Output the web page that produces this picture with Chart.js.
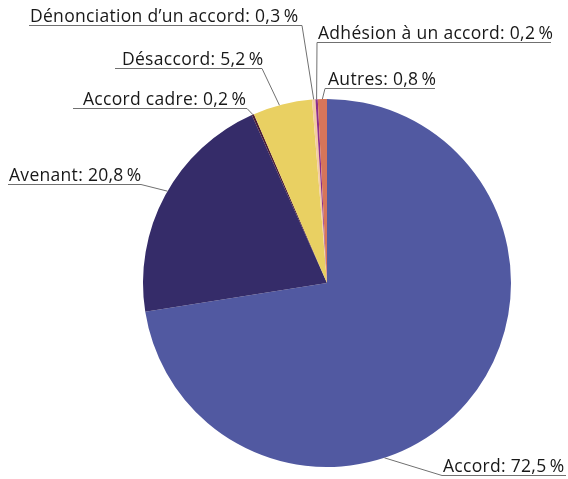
<!DOCTYPE html>
<html>
<head>
<meta charset="utf-8">
<script src="https://cdn.jsdelivr.net/npm/chart.js@4/dist/chart.umd.min.js"></script>
<style>
  html, body { margin: 0; padding: 0; background: #fff; }
  canvas { display: block; }
</style>
</head>
<body>
<canvas id="typesChart" width="568" height="479"></canvas>
<script>
// Data
const categories = ['Accord', 'Avenant', 'Accord cadre', 'Désaccord', 'Dénonciation d\u2019un accord', 'Adhésion à un accord', 'Autres'];
const shares = [72.5, 20.8, 0.2, 5.2, 0.3, 0.2, 0.8];
const sliceColors = ['#5159a1', '#352c69', '#4a1d36', '#e9d062', '#f4cba2', '#8c2d8a', '#d6755a'];

// Label placement (underline y, underline x range, text left, which end the leader leaves from, where it hits the slice)
const labelLayout = [
    { textX: 443, lineY: 475, x1: 442, x2: 566, from: 'left', at: 0.62 },
    { textX: 9, lineY: 184, x1: 8, x2: 141, from: 'right', at: 0.52 },
    { textX: 83, lineY: 108, x1: 73, x2: 247, from: 'right', at: 0.5 },
    { textX: 122, lineY: 68, x1: 115, x2: 262, from: 'right', at: 0.45 },
    { textX: 30, lineY: 25, x1: 29, x2: 302, from: 'right', at: 0.5 },
    { textX: 318, lineY: 42, x1: 317, x2: 551, from: 'left', at: 0.5 },
    { textX: 328, lineY: 88, x1: 325, x2: 435, from: 'left', at: 0.5 }
];

function formatShare(v) {
    return v.toFixed(1).replace('.', ',') + '\u2009%';
}

const leaderLabels = {
    id: 'leaderLabels',
    afterDraw(chart) {
        const ctx = chart.ctx;
        const arcs = chart.getDatasetMeta(0).data;
        ctx.save();
        ctx.font = '17.5px "Open Sans", sans-serif';
        ctx.letterSpacing = '0.3px';
        ctx.textBaseline = 'alphabetic';
        ctx.textAlign = 'left';
        arcs.forEach((arc, i) => {
            const lay = labelLayout[i];
            const { x, y, startAngle, endAngle, outerRadius } = arc.getProps(['x', 'y', 'startAngle', 'endAngle', 'outerRadius'], true);
            const ang = startAngle + (endAngle - startAngle) * lay.at;
            const ex = x + Math.cos(ang) * outerRadius;
            const ey = y + Math.sin(ang) * outerRadius;
            const sx = lay.from === 'left' ? lay.x1 : lay.x2;

            ctx.strokeStyle = '#707070';
            ctx.lineWidth = 1;
            ctx.beginPath();
            ctx.moveTo(lay.x1, lay.lineY + 0.5);
            ctx.lineTo(lay.x2, lay.lineY + 0.5);
            ctx.moveTo(sx, lay.lineY + 0.5);
            ctx.lineTo(ex, ey);
            ctx.stroke();

            ctx.fillStyle = '#181818';
            ctx.fillText(categories[i] + ': ' + formatShare(shares[i]), lay.textX, lay.lineY - 3);
        });
        ctx.restore();
    }
};

new Chart(document.getElementById('typesChart'), {
    type: 'pie',
    data: {
        labels: categories,
        datasets: [{
            data: shares,
            backgroundColor: sliceColors,
            borderWidth: 0,
            hoverOffset: 0
        }]
    },
    options: {
        responsive: false,
        animation: false,
        layout: {
            padding: { top: 99, bottom: 12, left: 143, right: 57 }
        },
        plugins: {
            legend: { display: false },
            tooltip: { enabled: false }
        }
    },
    plugins: [leaderLabels]
});
</script>
</body>
</html>
